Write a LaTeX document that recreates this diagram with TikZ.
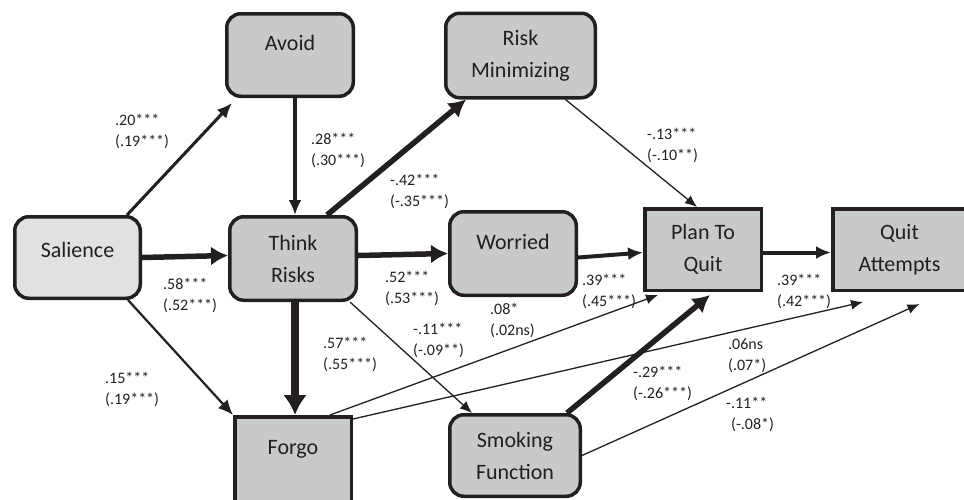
\documentclass[tikz,border=0pt]{standalone}
\usepackage{fontspec}
\setmainfont{Carlito}
\usetikzlibrary{arrows.meta}
\definecolor{boxline}{RGB}{35,31,32}
\definecolor{boxfill}{RGB}{200,201,203}
\definecolor{lightfill}{RGB}{225,225,227}
\tikzset{box/.style={draw=boxline, line width=3.5pt, fill=boxfill, rounded corners=14pt, align=center, inner sep=0pt, outer sep=1.75pt, text=boxline, font=\fontsize{22}{32}\selectfont}}
\tikzset{sqbox/.style={box, sharp corners}}
\tikzset{raised/.style={text height=15pt, text depth=#1}}
\tikzset{coef/.style={anchor=west, align=left, inner sep=0pt, text=boxline, font=\fontsize{16}{21}\selectfont}}
\tikzset{thinarrow/.style={draw=boxline, line width=1.3pt, -{Latex[length=12pt, width=10pt]}}}
\tikzset{midarrow/.style={draw=boxline, line width=#1, -{Latex[length=15pt, width=13pt]}}, midarrow/.default=3pt}
\tikzset{thickarrow/.style={draw=boxline, line width=5.5pt, -{Latex[length=17pt, width=19pt]}}}
\tikzset{heavyarrow/.style={draw=boxline, line width=7.5pt, -{Latex[length=20pt, width=24pt]}}}

\begin{document}
\begin{tikzpicture}[x=1pt, y=-1pt]
            \useasboundingbox (0, 0) rectangle (964, 499);
            \node[box, raised=24pt, minimum width=126.5pt, minimum height=82.5pt] (avoid) at (290, 55) {Avoid};
            \node[box, minimum width=149.5pt, minimum height=84.5pt] (riskmin) at (520.5, 55.5) {Risk\\Minimizing};
            \node[box, raised=16pt, fill=lightfill, minimum width=125.5pt, minimum height=81.5pt] (salience) at (77.5, 257.5) {Salience};
            \node[box, minimum width=126.5pt, minimum height=83.5pt] (think) at (293, 258.5) {Think\\Risks};
            \node[box, raised=24pt, minimum width=126.5pt, minimum height=83.5pt] (worried) at (513, 253.5) {Worried};
            \node[sqbox, minimum width=116.5pt, minimum height=81.5pt] (plan) at (703, 249.5) {Plan To\\Quit};
            \node[sqbox, minimum width=133.5pt, minimum height=81.5pt] (quit) at (899.5, 249.5) {Quit\\Attempts};
            \node[sqbox, raised=24pt, minimum width=116.5pt, minimum height=84.5pt] (forgo) at (293, 459) {Forgo};
            \node[box, minimum width=130.5pt, minimum height=81.5pt] (smoking) at (515, 455.5) {Smoking\\Function};

            \draw[midarrow] ([xshift=-15pt]salience.north east) -- ([xshift=7pt, yshift=-5pt]avoid.south west);
            \draw[midarrow=4pt] ([xshift=5pt]avoid.south) -- ([xshift=2pt]think.north);
            \draw[thickarrow] ([xshift=34pt]think.north) -- ([xshift=22pt]riskmin.south west);
            \draw[thickarrow] (salience.east) -- ([yshift=3pt]think.west);
            \draw[thickarrow] ([yshift=3pt]think.east) -- (worried.west);
            \draw[midarrow=4pt] ([yshift=-4pt]worried.east) -- ([yshift=-3pt]plan.west);
            \draw[midarrow=4pt] ([yshift=-3pt]plan.east) -- ([yshift=-3pt]quit.west);
            \draw[thinarrow] ([xshift=45pt]riskmin.south) -- ([xshift=-6pt]plan.north);
            \draw[heavyarrow] ([xshift=2pt]think.south) -- ([xshift=2pt]forgo.north);
            \draw[midarrow=2.2pt] ([xshift=-14pt]salience.south east) -- (forgo.north west);
            \draw[thinarrow] ([xshift=-8pt]think.south east) -- ([xshift=24pt]smoking.north west);
            \draw[thinarrow] ([xshift=37pt]forgo.north) -- ([xshift=15pt, yshift=-3pt]plan.south west);
            \draw[thinarrow] ([yshift=-4pt]forgo.north east) -- ([xshift=32pt, yshift=-10pt]quit.south west);
            \draw[thickarrow] ([xshift=-15pt]smoking.north east) -- ([xshift=7pt, yshift=-3pt]plan.south);
            \draw[thinarrow] (smoking.east) -- ([xshift=20pt, yshift=-12pt]quit.south);

            \foreach \n/\x/\y/\t in {sa/115/131/{.20***\\(.19***)}, at/311/150/{.28***\\(.30***)},
                tr/390/191/{-.42***\\(-.35***)}, rp/647/145/{-.13***\\(-.10**)},
                st/163/295/{.58***\\(.52***)}, tw/385/288/{.52***\\(.53***)},
                tsm/413/340/{-.11***\\(-.09**)}, tf/323/354/{.57***\\(.55***)},
                sf/105/389/{.15***\\(.19***)}, fp/490/320/{.08*\\(.02ns)},
                wp/582/291/{.39***\\(.45***)}, pq/777/291/{.39***\\(.42***)},
                fq/728/356/{.06ns\\(.07*)}, smp/633/383/{-.29***\\(-.26***)},
                smq/726/414/{-.11**\\\hspace{5pt}(-.08*)}} {
                \node[coef] (c-\n) at (\x, \y) {\t};
            }
\end{tikzpicture}
\end{document}
